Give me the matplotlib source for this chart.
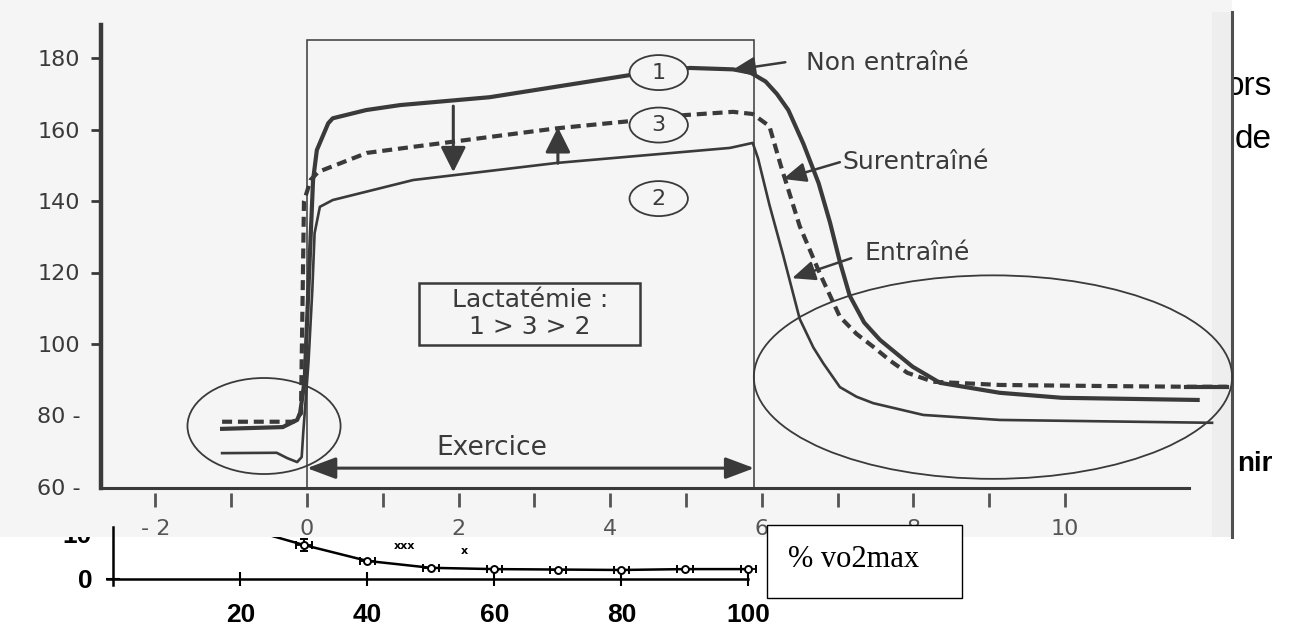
import matplotlib.pyplot as plt
from matplotlib.patches import Ellipse, Rectangle
from matplotlib.lines import Line2D

# ---------------------------------------------------------------------------
# data
# ---------------------------------------------------------------------------

# heart rate (bpm) against time (min), curve 1 = non entraine
t_non = [-1.12, -0.32, -0.13, -0.09, -0.03, 0.0, 0.08, 0.13, 0.28, 0.34, 0.78,
         1.23, 2.41, 4.26, 5.05, 5.62, 5.85, 6.05, 6.2, 6.35, 6.55, 6.75, 6.9,
         7.03, 7.16, 7.35, 7.56, 7.99, 8.35, 9.14, 9.96, 11.75]
hr_non = [76.2, 76.7, 78.7, 80.7, 90.0, 106.0, 145.9, 154.3, 161.8, 163.2, 165.5,
          166.9, 169.1, 175.3, 177.3, 176.9, 176.0, 173.5, 170.0, 165.5, 156.0,
          145.0, 134.0, 123.0, 113.5, 106.0, 101.1, 93.6, 89.1, 86.3, 84.9, 84.3]

# curve 2 = entraine
t_ent = [-1.12, -0.4, -0.26, -0.13, -0.07, -0.05, 0.02, 0.07, 0.1, 0.17, 0.34,
         1.4, 3.3, 5.58, 5.88, 5.95, 6.1, 6.28, 6.5, 6.68, 6.81, 7.03, 7.25,
         7.47, 8.13, 9.14, 11.94]
hr_ent = [69.4, 69.5, 68.0, 66.9, 68.3, 75.0, 95.0, 115.0, 131.0, 138.4, 140.3,
          145.9, 150.7, 154.9, 156.3, 152.0, 139.0, 125.0, 107.0, 99.0, 94.6,
          87.9, 85.2, 83.4, 80.1, 78.7, 77.9]

# curve 3 = surentraine (dashed)
t_sur = [-1.12, -0.18, -0.08, -0.06, -0.04, 0.05, 0.15, 0.79, 1.4, 3.3, 4.26,
         4.99, 5.62, 5.88, 6.1, 6.25, 6.5, 6.77, 7.03, 7.25, 7.47, 7.7, 7.92,
         8.26, 9.14, 10.5, 11.6, 12.14]
hr_sur = [78.2, 78.2, 80.5, 110.0, 140.0, 146.0, 148.2, 153.5, 155.2, 160.4,
          162.4, 164.1, 165.0, 164.4, 161.0, 150.0, 133.0, 119.5, 107.6, 102.8,
          99.2, 95.2, 91.9, 89.4, 88.5, 88.2, 88.0, 88.0]

exercise_end = 5.9
circle_labels = ['1', '3', '2']
circle_t = [4.64, 4.64, 4.64]
circle_hr = [176.0, 161.3, 140.7]

# curve labels: text, text anchor, arrow tail, arrow tip
curve_names = ['Non entraîné', 'Surentraîné', 'Entraîné']
name_pos = [(6.58, 178.7), (7.06, 150.9), (7.36, 125.4)]
name_tail = [(6.31, 178.9), (7.03, 150.9), (7.18, 124.0)]
name_tip = [(5.61, 176.7), (6.28, 146.2), (6.40, 118.4)]

hr_ticks = [60, 80, 100, 120, 140, 160, 180]
hr_tick_labels = ['60 -', '80 -', '100', '120', '140', '160', '180']
minute_ticks = list(range(-2, 11))
minute_labels = ['- 2', '0', '2', '4', '6', '8', '10']

# lactate inset: % VO2max against lactate
pct = [20, 30, 40, 50, 60, 70, 80, 90, 100]
lac = [12.1, 7.9, 4.2, 2.6, 2.3, 2.2, 2.1, 2.3, 2.3]
lac_err = [0, 1.4, 0, 0, 0, 0, 0, 0, 0]
pct_ticks = [20, 40, 60, 80, 100]

# ---------------------------------------------------------------------------
# layout helpers (pixels of the 1293 x 626 picture)
# ---------------------------------------------------------------------------
W, H = 1293, 626
INK = '#3a3a3a'
PAPER = '#f5f5f5'


def box(x0, y0, x1, y1):
    return [x0 / W, 1 - y1 / H, (x1 - x0) / W, (y1 - y0) / H]


fig = plt.figure(figsize=(W / 100, H / 100), dpi=100, facecolor='white')

# scanned page behind the main chart
fig.add_artist(Rectangle((0, 1 - 537 / H), 1232 / W, 537 / H,
                         transform=fig.transFigure, fc=PAPER, ec='none', zorder=-1))
fig.add_artist(Rectangle((1212 / W, 1 - 537 / H), 19 / W, 525 / H,
                         transform=fig.transFigure, fc='#eeeeee', ec='none', zorder=-0.9))
fig.add_artist(Line2D([1232 / W, 1232 / W], [1 - 12 / H, 1 - 537 / H],
                      transform=fig.transFigure, color='#505050', lw=2.2, zorder=-0.8))

# slide text peeking out on the right
fig.text(1226 / W, 1 - 95 / H, 'ors', fontsize=24, family='Liberation Sans',
         va='baseline', zorder=-2)
fig.text(1235 / W, 1 - 148 / H, 'de', fontsize=24, family='Liberation Sans',
         va='baseline', zorder=-2)
fig.text(1237 / W, 1 - 471 / H, 'nir', fontsize=20, family='Liberation Sans',
         fontweight='bold', va='baseline', zorder=-2)

# ---------------------------------------------------------------------------
# main chart
# ---------------------------------------------------------------------------
x0_px, px_per_min = 307, 75.8
y180_px, px_per_bpm = 58.3, 3.57

ax = fig.add_axes(box(101, 25, 1240, 488))
ax.set_facecolor('none')
ax.set_xlim((101 - x0_px) / px_per_min, (1240 - x0_px) / px_per_min)
ax.set_ylim(180 - (488 - y180_px) / px_per_bpm, 180 + (y180_px - 25) / px_per_bpm)
ymin = ax.get_ylim()[0]

for side in ['top', 'right']:
    ax.spines[side].set_visible(False)
ax.spines['left'].set_color(INK)
ax.spines['left'].set_linewidth(3.2)
ax.spines['bottom'].set_color(INK)
ax.spines['bottom'].set_linewidth(2.2)
ax.spines['bottom'].set_bounds(ax.get_xlim()[0], (1189 - x0_px) / px_per_min)

ax.set_yticks(hr_ticks)
ax.set_yticklabels(hr_tick_labels)
ax.tick_params(axis='y', length=7, width=2, color=INK, pad=8,
               labelsize=16, labelcolor=INK)
for tick in ax.yaxis.get_major_ticks()[:2]:
    tick.tick1line.set_visible(False)

ax.set_xticks(minute_ticks[::2])
ax.set_xticklabels(minute_labels)
ax.tick_params(axis='x', length=0, pad=22, labelsize=16, labelcolor='#555555')
ax.plot(minute_ticks, [-12 / 463] * len(minute_ticks), transform=ax.get_xaxis_transform(),
        ls='none', marker='|', ms=10, mew=2, color='#555555', clip_on=False)

# exercise window
ax.add_patch(Rectangle((0, ymin), exercise_end, 185.0 - ymin, fill=False,
                       ec=INK, lw=1.1, zorder=1))

# heart rate curves
ax.plot(t_non, hr_non, color=INK, lw=3.0, zorder=3)
ax.plot(t_ent, hr_ent, color=INK, lw=1.9, zorder=3)
ax.plot(t_sur, hr_sur, color=INK, lw=3.0, ls=(0, (2.4, 1.4)), zorder=3)
ax.plot(t_sur[-2:], hr_sur[-2:], color=INK, lw=3.0, zorder=3)

# numbered circles
for lab, cx, cy in zip(circle_labels, circle_t, circle_hr):
    ax.add_patch(Ellipse((cx, cy), 0.77, 9.8, fc=PAPER, ec=INK, lw=1.3, zorder=4))
    ax.text(cx, cy, lab, ha='center', va='center', fontsize=16, color=INK, zorder=5)

# arrows between curves
arrow_kw = dict(arrowstyle='-|>,head_length=0.7,head_width=0.35', color=INK,
                lw=2.2, shrinkA=0, shrinkB=0, mutation_scale=22)
ax.annotate('', xy=(1.93, 148.1), xytext=(1.93, 166.6), arrowprops=arrow_kw)
ax.annotate('', xy=(3.31, 160.7), xytext=(3.31, 150.6), arrowprops=arrow_kw)

# curve names
for name, pos, tail, tip in zip(curve_names, name_pos, name_tail, name_tip):
    ax.annotate('', xy=tip, xytext=tail,
                arrowprops=dict(arrowstyle='-|>,head_length=0.7,head_width=0.3',
                                color=INK, lw=1.8, shrinkA=0, shrinkB=0,
                                mutation_scale=20), zorder=6)
    ax.text(pos[0], pos[1], name, ha='left', va='center', fontsize=18, color=INK)

# lactate box
ax.add_patch(Rectangle((1.48, 99.7), 2.91, 17.4, fc='none', ec=INK, lw=1.8, zorder=2))
ax.text(2.94, 112.3, 'Lactatémie :', ha='center', va='center', fontsize=18, color=INK)
ax.text(2.94, 104.8, '1 > 3 > 2', ha='center', va='center', fontsize=18, color=INK)

# exercise arrow
ax.annotate('', xy=(exercise_end, 65.2), xytext=(0, 65.2),
            arrowprops=dict(arrowstyle='<|-|>,head_length=0.8,head_width=0.3',
                            color=INK, lw=2.2, shrinkA=0, shrinkB=0, mutation_scale=22))
ax.text(2.44, 70.8, 'Exercice', ha='center', va='center', fontsize=19, color=INK)

# highlighted zones
ax.add_patch(Ellipse((-0.567, 77.0), 2.02, 26.9, fill=False, ec=INK, lw=1.3, zorder=2))
ax.add_patch(Ellipse((9.05, 90.7), 6.31, 57.0, fill=False, ec=INK, lw=1.3,
                     zorder=2, clip_on=False))

# ---------------------------------------------------------------------------
# lactate inset pasted below
# ---------------------------------------------------------------------------
ax2 = fig.add_axes(box(0, 537, 770, 626), zorder=1)
ax2.set_facecolor('white')
x0_in, px_per_pct = 113.5, 6.35
y0_in, px_per_mmol = 579, 4.3
ax2.set_xlim(-x0_in / px_per_pct, (770 - x0_in) / px_per_pct)
ax2.set_ylim((y0_in - 626) / px_per_mmol, (y0_in - 537) / px_per_mmol)

for side in ['top', 'right']:
    ax2.spines[side].set_visible(False)
ax2.spines['left'].set_position(('data', 0))
ax2.spines['left'].set_bounds(-1.5, 12)
ax2.spines['bottom'].set_position(('data', 0))
ax2.spines['bottom'].set_bounds(-1, 100)
for side in ['left', 'bottom']:
    ax2.spines[side].set_linewidth(1.8)

ax2.set_xticks(pct_ticks)
ax2.set_yticks([0])
ax2.tick_params(direction='inout', length=10, width=1.5, labelsize=19)
ax2.tick_params(axis='x', pad=12)
ax2.tick_params(axis='y', pad=10)
for lbl in ax2.get_xticklabels() + ax2.get_yticklabels():
    lbl.set_fontweight('bold')
    lbl.set_family('Liberation Sans')

ax2.text(-3.4, 10, '10', ha='right', va='center', fontsize=19, fontweight='bold',
         family='Liberation Sans', clip_on=True)
ax2.errorbar(pct, lac, xerr=1.2, yerr=lac_err, fmt='-o', color='black', mfc='white',
             ms=5, mew=1.4, lw=1.8, elinewidth=1.3, capsize=3)
ax2.text(45.9, 7.7, 'xxx', ha='center', va='center', fontsize=8, fontweight='bold')
ax2.text(55.3, 6.5, 'x', ha='center', va='center', fontsize=8, fontweight='bold')

# caption box
fig.add_artist(Rectangle((767 / W, 1 - 598 / H), 195 / W, 73 / H,
                         transform=fig.transFigure, fc='white', ec='black',
                         lw=1, zorder=5))
fig.text(788 / W, 1 - 567 / H, '% vo2max', family='Liberation Serif', fontsize=22,
         va='baseline', zorder=6)

fig.savefig('out.png', dpi=100, facecolor='white')
